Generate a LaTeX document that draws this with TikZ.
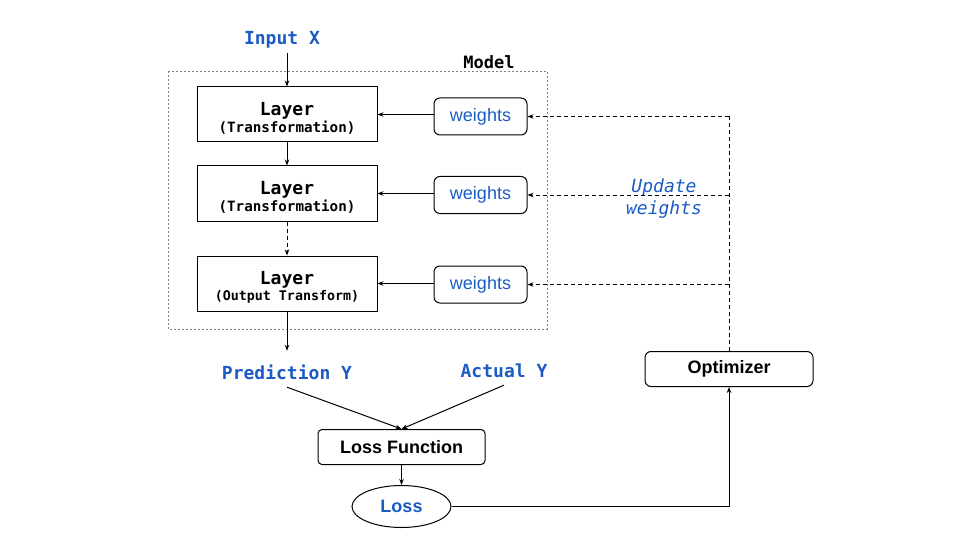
\documentclass[tikz,border=0pt]{standalone}
\usepackage{fontspec}
\setmainfont{Liberation Sans}
\newfontfamily\monofont{DejaVu Sans Mono}
\usetikzlibrary{arrows.meta,shapes.geometric}
\definecolor{tblue}{HTML}{1A5BC4}
\begin{document}
\begin{tikzpicture}[x=1pt,y=-1pt,
  arr/.style={-{Stealth[length=6pt,width=4.5pt]}},
  ln/.style={line width=1pt,draw=black},
  dsh/.style={dash pattern=on 4pt off 3pt},
  lbl/.style={font=\monofont\bfseries\fontsize{18}{20}\selectfont,text=tblue,text height=26pt,text depth=6pt,inner sep=2pt},
  layerbox/.style={draw,line width=1pt,minimum width=180pt,minimum height=55pt,align=center,inner sep=0pt},
  wbox/.style={draw,line width=1pt,rounded corners=6pt,minimum width=93pt,minimum height=37pt,text=tblue,font=\fontsize{18}{20}\selectfont,inner sep=0pt},
  sbox/.style={draw,line width=1pt,minimum height=35pt,font=\bfseries\fontsize{18}{20}\selectfont,inner sep=0pt}
]
\useasboundingbox (0,0) rectangle (960,540);

% model box
\draw[gray,line width=0.8pt,dash pattern=on 2pt off 2pt] (168,71) rectangle (547,329);
\node[font=\monofont\bfseries\fontsize{17}{20}\selectfont] (model) at (489,62) {Model};

\node[lbl] (inx) at (282,35) {Input X};

\newcommand{\layertext}[2]{{\monofont\bfseries\fontsize{18}{18}\selectfont\rule{0pt}{21.5pt}Layer}\\[1pt]{\monofont\bfseries\fontsize{#2}{14}\selectfont #1}}
\node[layerbox] (l1) at (287,114.5) {\layertext{(Transformation)}{14.2}};
\node[layerbox] (l2) at (287,193.5) {\layertext{(Transformation)}{14.2}};
\node[layerbox] (l3) at (287,283.5) {\layertext{(Output Transform)}{13.3}};

\node[wbox] (w1) at (480.5,116.5) {weights};
\node[wbox] (w2) at (480.5,195) {weights};
\node[wbox] (w3) at (480.5,284.5) {weights};

\node[lbl] (pred) at (287,369) {Prediction Y};
\node[lbl] (act) at (504,367) {Actual Y};

\node[sbox,rounded corners=4pt,minimum width=167pt] (lf) at (401.5,447) {Loss Function};
\node[draw,line width=1pt,ellipse,minimum width=99pt,minimum height=42pt,inner sep=0pt,text=tblue,font=\bfseries\fontsize{18}{20}\selectfont] (loss) at (401.5,506.5) {Loss};
\node[sbox,rounded corners=6pt,minimum width=168pt] (opt) at (729,369) {Optimizer};

\node[text=tblue,font=\monofont\itshape\fontsize{18}{22}\selectfont,align=center,inner sep=0pt] (upd) at (664,199) {Update\\weights};

% connectors
\draw[ln,arr] (inx.south -| l1.north) -- (l1.north);
\draw[ln,arr] (l1) -- (l2);
\draw[ln,arr,dsh] (l2) -- (l3);
\draw[ln,arr] (l3.south) -- (l3.south |- pred.north);
\draw[ln,arr] (w1.west |- l1.east) -- (l1.east);
\draw[ln,arr] (w2.west |- l2.east) -- (l2.east);
\draw[ln,arr] (w3.west |- l3.east) -- (l3.east);
\draw[ln,arr] (pred.south) -- (lf.north);
\draw[ln,arr] (act.south) -- (lf.north);
\draw[ln,arr] (lf) -- (loss);
\draw[ln,arr] (loss.east) -| (opt.south);
\coordinate (top) at (opt.north |- w1.east);
\draw[ln,dsh] (opt.north) -- (top);
\draw[ln,dsh,arr] (top) -- (w1.east);
\draw[ln,dsh,arr] (opt.north |- w2.east) -- (w2.east);
\draw[ln,dsh,arr] (opt.north |- w3.east) -- (w3.east);
\end{tikzpicture}
\end{document}
